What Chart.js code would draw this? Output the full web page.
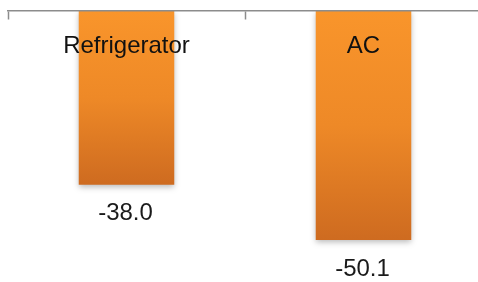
<!DOCTYPE html>
<html>
<head>
<meta charset="utf-8">
<script src="https://cdn.jsdelivr.net/npm/chart.js@4"></script>
<style>
  html, body { margin: 0; padding: 0; background: #ffffff; overflow: hidden; }
  #wrap { width: 482px; height: 282px; }
</style>
</head>
<body>
<div id="wrap"><canvas id="c" width="482" height="282"></canvas></div>
<script>
const categories = ["Refrigerator", "AC"];
const values = [-38.0, -50.1];
const yMin = -56;
const yMax = 0;

const FONT = "'Liberation Sans', Arial, sans-serif";

function barGradient(ctx) {
  const chart = ctx.chart;
  const y = chart.scales && chart.scales.y;
  if (!y || !chart.chartArea) return '#F08A26';
  const top = y.getPixelForValue(0);
  const bottom = y.getPixelForValue(ctx.raw);
  const g = chart.ctx.createLinearGradient(0, top, 0, bottom);
  g.addColorStop(0, '#F9952B');
  g.addColorStop(0.5, '#EE8927');
  g.addColorStop(1, '#CE6B20');
  return g;
}

const shadowPlugin = {
  id: 'barShadow',
  beforeDatasetsDraw(chart) {
    const c = chart.ctx;
    c.save();
    c.shadowColor = 'rgba(0,0,0,0.28)';
    c.shadowBlur = 6;
    c.shadowOffsetX = 0;
    c.shadowOffsetY = 2;
  },
  afterDatasetsDraw(chart) {
    chart.ctx.restore();
  }
};

const valueLabels = {
  id: 'valueLabels',
  afterDraw(chart) {
    const c = chart.ctx;
    const meta = chart.getDatasetMeta(0);
    c.save();
    c.font = '24px ' + FONT;
    c.fillStyle = '#1a1a1a';
    c.textAlign = 'center';
    c.textBaseline = 'middle';
    meta.data.forEach((bar, i) => {
      const v = chart.data.datasets[0].data[i];
      c.fillText(v.toFixed(1), bar.x - 1, bar.y + 29);
    });
    c.restore();
  }
};

new Chart(document.getElementById('c'), {
  type: 'bar',
  data: {
    labels: categories,
    datasets: [{
      data: values,
      backgroundColor: barGradient,
      borderWidth: 0,
      barPercentage: 0.403,
      categoryPercentage: 1.0
    }]
  },
  options: {
    responsive: false,
    animation: false,
    devicePixelRatio: 1,
    layout: { padding: { top: 11, bottom: 15, left: 8, right: 0 } },
    plugins: { legend: { display: false }, tooltip: { enabled: false } },
    scales: {
      x: {
        position: { y: 0 },
        offset: true,
        grid: {
          offset: true,
          drawOnChartArea: false,
          drawTicks: true,
          tickLength: 8,
          tickWidth: 1.5,
          tickColor: '#8c8c8c'
        },
        border: { display: true, color: '#8c8c8c', width: 1.5, z: 1 },
        ticks: {
          z: 1,
          color: '#111111',
          font: { family: FONT, size: 24 },
          padding: 13,
          maxRotation: 0,
          autoSkip: false
        }
      },
      y: {
        display: false,
        min: yMin,
        max: yMax
      }
    }
  },
  plugins: [shadowPlugin, valueLabels]
});
</script>
</body>
</html>
